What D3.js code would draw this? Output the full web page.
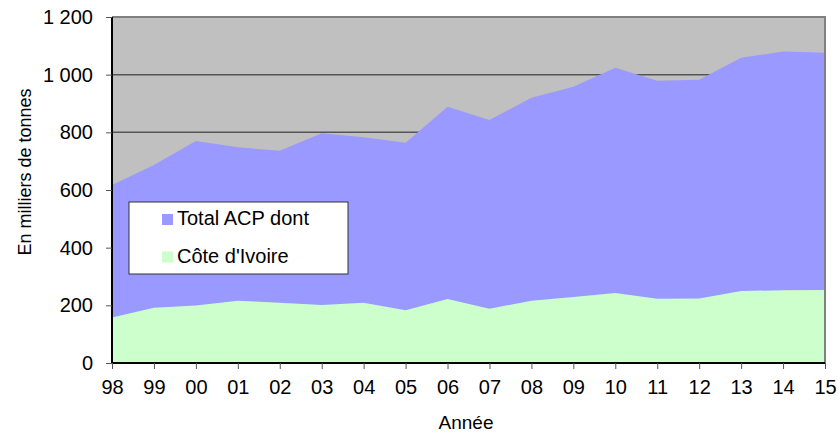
<!DOCTYPE html>
<html>
<head>
<meta charset="utf-8">
<script src="https://cdn.jsdelivr.net/npm/d3@7"></script>
<style>
  body { margin: 0; background: #fff; }
  svg text { font-family: "Liberation Sans", Arial, sans-serif; fill: #000; }
</style>
</head>
<body>
<div id="container"></div>
<script>
/* DATA */
const years = ["98","99","00","01","02","03","04","05","06","07","08","09","10","11","12","13","14","15"];
const totalACP = [617, 687, 770, 748, 736, 797, 783, 764, 889, 843, 920, 958, 1024, 979, 982, 1059, 1080, 1076];
const coteIvoire = [158, 192, 199, 216, 209, 201, 209, 183, 222, 188, 216, 229, 243, 223, 224, 250, 252, 253];
const yTicks = [0, 200, 400, 600, 800, 1000, 1200];
const seriesNames = ["Total ACP dont", "Côte d'Ivoire"];
const seriesColors = ["#9999FF", "#CCFFCC"];

/* CONSTANTS */
const width = 839,
  height = 432,
  margin = { top: 17, right: 14, bottom: 69, left: 112 };

const fr = d3.formatLocale({ decimal: ",", thousands: "\u00a0", grouping: [3], currency: ["", " €"] });
const fmt = fr.format(",d");

const svg = d3.select("#container")
  .append("svg")
  .attr("width", width)
  .attr("height", height);

const xScale = d3.scalePoint()
  .domain(years)
  .range([margin.left, width - margin.right]);

const yScale = d3.scaleLinear()
  .domain([0, 1200])
  .range([height - margin.bottom, margin.top]);

// plot background
svg.append("rect")
  .attr("x", margin.left)
  .attr("y", margin.top)
  .attr("width", width - margin.right - margin.left)
  .attr("height", height - margin.bottom - margin.top)
  .attr("fill", "#C0C0C0");

// gridlines (behind areas)
svg.append("g")
  .selectAll("line")
  .data(yTicks.filter(d => d > 0 && d < 1200))
  .join("line")
  .attr("x1", margin.left)
  .attr("x2", width - margin.right)
  .attr("y1", d => yScale(d))
  .attr("y2", d => yScale(d))
  .attr("stroke", "#555")
  .attr("stroke-width", 1.5);

// areas
const area = vals => d3.area()
  .x((d, i) => xScale(years[i]))
  .y0(yScale(0))
  .y1(d => yScale(d))(vals);

svg.append("path")
  .attr("d", area(totalACP))
  .attr("fill", seriesColors[0]);

svg.append("path")
  .attr("d", area(coteIvoire))
  .attr("fill", seriesColors[1]);

// plot border top/right
svg.append("path")
  .attr("d", `M${margin.left},${margin.top}H${width - margin.right}V${height - margin.bottom}`)
  .attr("fill", "none")
  .attr("stroke", "#808080")
  .attr("stroke-width", 2);

// axes
const yAxis = d3.axisLeft(yScale)
  .tickValues(yTicks)
  .tickFormat(fmt)
  .tickSize(6)
  .tickPadding(13);

const yAxisGroup = svg.append("g")
  .attr("transform", `translate(${margin.left}, 0)`)
  .call(yAxis);
yAxisGroup.selectAll("line").attr("stroke", "#555");
yAxisGroup.select(".domain").attr("stroke", "#000").attr("stroke-width", 2)
  .attr("d", `M0,${margin.top}V${height - margin.bottom}`);
yAxisGroup.selectAll("text").style("font-size", "20px");

const xAxis = d3.axisBottom(xScale)
  .tickSize(6)
  .tickPadding(11);

const xAxisGroup = svg.append("g")
  .attr("transform", `translate(0, ${height - margin.bottom})`)
  .call(xAxis);
xAxisGroup.selectAll("line").attr("stroke", "#555");
xAxisGroup.select(".domain").attr("stroke", "#000").attr("stroke-width", 2)
  .attr("d", `M${margin.left},0H${width - margin.right}`);
xAxisGroup.selectAll("text").style("font-size", "20px");

// axis titles
svg.append("text")
  .attr("x", 466)
  .attr("y", 429)
  .attr("text-anchor", "middle")
  .style("font-size", "19px")
  .text("Année");

svg.append("text")
  .attr("transform", `translate(31, 172) rotate(-90)`)
  .attr("text-anchor", "middle")
  .style("font-size", "18px")
  .text("En milliers de tonnes");

// legend
const legend = svg.append("g");
legend.append("rect")
  .attr("x", 129)
  .attr("y", 202)
  .attr("width", 219)
  .attr("height", 72)
  .attr("fill", "#fff")
  .attr("stroke", "#333")
  .attr("stroke-width", 1);

const items = legend.selectAll("g.item")
  .data(seriesNames)
  .join("g")
  .attr("class", "item")
  .attr("transform", (d, i) => `translate(162, ${214 + i * 37.5})`);

items.append("rect")
  .attr("width", 11)
  .attr("height", 11)
  .attr("fill", (d, i) => seriesColors[i]);

items.append("text")
  .attr("x", 15)
  .attr("y", 11)
  .style("font-size", "20px")
  .text(d => d);
</script>
</body>
</html>
